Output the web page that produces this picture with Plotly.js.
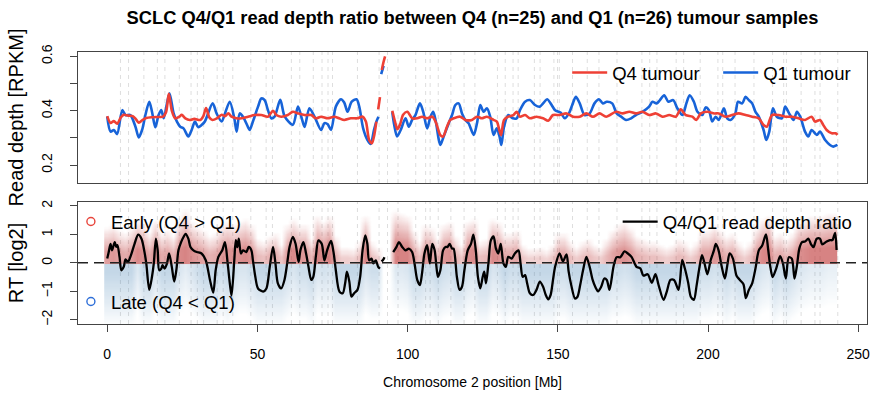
<!DOCTYPE html>
<html><head><meta charset="utf-8">
<script src="https://cdn.plot.ly/plotly-3.0.1.min.js"></script>
<style>html,body{margin:0;padding:0;background:#fff}#chart{width:877px;height:400px}</style>
</head><body><div id="chart"></div>
<script>
// ---------- DATA (Mb positions) ----------
const q4Pos = [0,1.1,2.2,3.3,4.5,5.5,7,8.5,9.6,10.5,11.8,13,15,17,18.6,19.6,20.5,21.5,22.6,24,24.8,26,27.5,29,31,32,32.9,34,35,36.5,38.1,39.2,40.3,41.4,43,44.7,46.9,49.1,51.3,53.5,55.2,56.3,57.9,60.1,61.8,63.5,65.7,67.9,69.5,71.2,73.4,75.6,77.2,78.9,81.1,83.3,85,86.1,87.2,88.1,88.8,89.6,89.9,90.2,90.8,91.1,91.4,92,92.5,93.7,94.9,95.8,96.6,97.5,98.5,99.9,101.5,103.2,104.8,106.5,108.2,109.3,110.2,110.9,111.8,113.1,114.2,115.3,117.5,119.2,121.4,123.1,124.7,126.4,128.6,129.7,130.5,131.1,132.1,133.5,135.2,136.3,137.4,139.1,140.7,142.9,145.1,146.8,148.4,150.6,152.9,155.1,157.3,159.5,161.7,163.9,166.1,169.4,171.6,173.8,176,178.2,180.4,182.7,184.9,187.1,189.3,190.9,192.6,194.8,196.1,197.6,199.8,202.1,203.6,205.8,208,210.2,212.5,214.7,216.9,218.5,219.6,221.3,223.5,225.7,227.9,230.1,232.3,234.5,235.6,237.3,238.4,239.5,241.2,242.5,243.1];
const q4Val = [0.38,0.355,0.362,0.352,0.375,0.385,0.382,0.38,0.368,0.356,0.366,0.373,0.376,0.377,0.378,0.395,0.462,0.40,0.372,0.378,0.385,0.372,0.366,0.37,0.366,0.38,0.41,0.375,0.366,0.372,0.385,0.38,0.39,0.378,0.372,0.372,0.378,0.384,0.384,0.378,0.40,0.384,0.378,0.384,0.396,0.39,0.384,0.384,0.372,0.378,0.372,0.378,0.372,0.366,0.372,0.372,0.378,0.36,0.292,0.28,0.305,0.36,null,0.405,0.45,null,0.55,0.58,0.60,null,0.40,0.36,0.332,0.35,0.385,0.396,0.372,0.372,0.378,0.372,0.378,0.36,0.33,0.31,0.305,0.341,0.366,0.372,0.378,0.366,0.366,0.378,0.372,0.378,0.366,0.36,0.33,0.31,0.366,0.378,0.384,0.396,0.378,0.384,0.372,0.378,0.372,0.363,0.384,0.384,0.39,0.378,0.378,0.39,0.378,0.39,0.378,0.396,0.39,0.396,0.39,0.396,0.384,0.39,0.378,0.384,0.378,0.405,0.384,0.378,0.366,0.39,0.396,0.39,0.39,0.378,0.384,0.39,0.384,0.378,0.372,0.347,0.341,0.384,0.384,0.378,0.378,0.372,0.366,0.378,0.36,0.366,0.347,0.329,0.317,0.317,0.311];

const q1Pos = [0,1.1,2.2,3.3,5,6.1,7.7,9.4,10.5,11.6,12.7,14,14.9,16,17.1,18,18.8,20.7,22.1,23.2,24.3,25.4,27,28.1,29.2,30.3,31.4,32.5,35.1,36.4,38.1,39.2,40.8,42.3,43.1,44.1,45.2,46.9,47.4,48.5,50.2,51.3,52.4,53.5,54.6,55.7,57.6,59.1,61.8,63.5,64.9,65.7,67.3,69,71.2,72.3,73.4,74.5,76.1,77.8,78.9,80,81.4,83,83.9,85.2,86.6,87.7,88.8,89.6,90.3,90.8,91.2,92,93.5,94.9,95.5,96.5,97.7,99.3,100.4,101.5,102.6,104.1,105.2,106.5,107.6,108.5,109.3,110.4,110.9,112,113.7,114.8,115.9,117,118.1,119.2,120.3,122,123.1,124.2,125.3,126.4,127.5,128.6,129.7,130.6,131.2,132.1,133.5,135,136.3,137.4,139.1,140.7,142.4,144,145.1,146.5,147.6,149.1,150.9,152.3,153.7,154.8,156,157.3,158.9,160.6,162.2,163.7,165,166.3,168.1,169.6,171.1,172.7,174.4,176,178.2,180.4,181.5,182.9,184,185.4,186.8,188.4,189.8,191.5,192.8,193.9,195.3,196.5,198.1,199.2,200.3,201.4,202.5,203.6,205.3,206.4,207.5,209.1,210,211.4,212.5,213.6,214.7,215.8,216.9,218.5,219.4,220.4,221.6,222.9,224.6,225.7,227,228.5,229.6,230.7,232.3,233.4,234.5,236.2,237.3,239,240.6,241.7,243.1];
const q1Val = [0.378,0.323,0.329,0.314,0.402,0.384,0.384,0.341,0.302,0.329,0.384,0.433,0.396,0.339,0.384,0.402,0.372,0.464,0.39,0.36,0.341,0.335,0.305,0.329,0.36,0.339,0.347,0.36,0.427,0.39,0.36,0.39,0.433,0.372,0.323,0.39,0.378,0.339,0.329,0.36,0.415,0.445,0.439,0.402,0.372,0.378,0.44,0.378,0.348,0.415,0.366,0.34,0.409,0.378,0.329,0.354,0.35,0.329,0.415,0.442,0.43,0.396,0.433,0.442,0.415,0.335,0.293,0.278,0.329,0.36,0.378,null,0.535,0.565,null,0.395,0.35,0.305,0.329,0.372,0.341,0.366,0.384,0.427,0.396,0.335,0.378,0.396,0.366,0.292,0.274,0.305,0.354,0.384,0.421,0.427,0.39,0.366,0.354,0.311,0.354,0.421,0.396,0.409,0.378,0.311,0.335,0.305,0.274,0.341,0.384,0.372,0.372,0.402,0.433,0.439,0.421,0.415,0.427,0.442,0.427,0.402,0.393,0.372,0.39,0.421,0.451,0.427,0.384,0.39,0.427,0.442,0.427,0.433,0.427,0.39,0.378,0.366,0.372,0.384,0.396,0.415,0.433,0.427,0.439,0.457,0.433,0.439,0.409,0.384,0.427,0.457,0.433,0.396,0.384,0.412,0.402,0.36,0.378,0.366,0.409,0.372,0.366,0.39,0.433,0.427,0.451,0.439,0.427,0.396,0.378,0.329,0.292,0.323,0.409,0.378,0.372,0.415,0.39,0.366,0.396,0.378,0.323,0.305,0.329,0.311,0.323,0.292,0.274,0.268,0.274];

const ratioPos = [0,0.5,1.1,1.6,2.5,3,3.4,4.1,4.7,5.5,6.1,6.9,7.7,9.1,10.3,11.4,12.3,13,14,14.9,15.5,16.2,16.8,17.3,18,18.4,19.1,19.9,20.6,21.5,22.3,23,23.7,24.6,25.4,26.1,27,27.7,28.7,29.8,31.4,32.8,34.2,35.3,36.1,37,38.3,39.2,40.1,40.9,41.4,42.3,42.8,43.3,43.8,44.5,45.2,46.3,47.1,48,48.5,49.3,50.2,51.9,53,54.1,55.2,56,56.8,57.9,59,59.9,60.7,61.8,62.7,63.7,64.3,65.3,66.2,67,67.9,68.6,69.5,70.3,71.4,72.3,73.2,74.5,75.4,76.1,77.3,78.4,79.2,79.8,80.6,81.3,82.2,83.3,84.2,85,85.9,86.6,87.2,88,88.6,89.4,90.2,90.8,91,91.3,91.8,92.3,93.5,95.2,96.3,97.1,98.2,99.3,100.4,101.5,102.3,103.2,104.1,104.8,105.6,106.5,107.4,108.2,109,109.6,110.1,110.9,111.8,112.6,113.3,114,114.8,115.3,116.4,117.3,118.1,118.9,120,121.1,121.9,122.7,123.4,124.2,125,125.5,126.1,126.9,127.7,128.6,129.4,130.2,131,131.9,132.7,133.5,134.6,135.7,136.9,137.6,138.3,139.1,139.8,140.7,141.8,142.9,144,145.1,146,146.8,147.6,148.4,149.1,150.6,151.7,152.9,153.6,154.5,155.7,156.5,157.5,158.4,159.5,160.6,161.6,162.5,163.4,164.4,165.5,166.3,167.2,168.6,169.6,170.8,172.2,173.3,174.6,176.2,177.5,178.5,179.9,181.3,182.5,183.6,185.2,186.3,187.5,188.7,190.2,191.4,192.3,193.4,194.3,195.3,196.2,197,198,198.9,199.8,200.9,202,202.6,203.5,204.5,205.6,206.4,207.2,208.3,209.5,210.6,211.8,212.6,213.6,214.7,215.8,216.9,218,219.3,220,220.7,221.5,222.7,224,224.9,225.9,226.9,227.9,228.8,229.6,230.4,231.3,232.3,233.4,234.3,235.1,236.2,237.3,238,239.5,240.6,241.4,242.3,242.8];
const ratioVal = [0.15,0.38,0.67,0.44,0.73,0.56,0.62,0.21,-0.26,-0.14,0.12,0.03,0.21,0.67,0.99,0.85,0.44,-0.02,-0.95,-0.49,-0.02,0.85,0.44,-0.26,-0.2,-0.08,-0.2,-0.02,0.33,-0.14,-0.66,-0.26,0.44,0.73,0.91,1.02,0.85,0.56,0.44,0.38,0.33,0.09,-0.6,-1.05,-0.26,0.21,0.44,0.73,-0.02,-0.8,-1.15,0.1,0.8,0.55,0.85,0.33,0.44,0.38,0.56,0.44,0.09,-0.49,-0.9,-1.01,-0.9,-0.14,0.56,-0.02,-0.72,-0.9,-0.6,-0.02,0.56,0.91,0.67,0.03,0.44,0.73,0.33,-0.14,-0.6,-0.49,0.27,0.79,0.67,0.09,0.44,0.77,0.33,-0.26,-1.01,-1.07,-0.72,-0.31,-0.66,-1.19,-1.07,-0.95,-0.49,0.44,0.97,0.67,0.09,0.15,-0.02,0.09,-0.14,-0.2,null,0.05,0.1,0.2,null,0.38,0.56,0.73,0.56,0.44,0.5,0.38,-0.02,-0.6,-0.78,-0.37,0.33,0.62,-0.02,0.67,0.44,-0.14,-0.49,-0.26,0.44,0.56,0.56,0.67,0.5,0.5,-0.49,-0.95,-0.84,-0.26,0.44,0.67,0.99,0.44,-0.49,-0.9,-0.49,-0.31,-0.72,-0.02,0.79,0.93,0.5,0.33,0.67,-0.02,-0.14,0.21,0.15,0.33,0.44,-0.02,-0.49,-0.43,-0.72,-1.07,-1.13,-0.95,-0.66,-0.84,-1.13,-1.28,-1.13,-0.6,-0.14,0.33,0.05,0.3,-0.3,-0.8,-1.25,-1.2,-0.75,-0.26,0.21,-0.14,-0.6,-0.85,-1.0,-0.85,-0.55,-0.6,-0.95,-0.1,0.2,0.2,0.4,0.33,0.2,-0.14,-0.2,-0.45,-0.4,-0.7,-0.4,-0.8,-1.3,-1.0,-0.6,-0.6,-0.95,0.1,-0.2,-0.7,-1.2,-1.3,-0.8,-0.26,0.27,-0.05,-0.4,0.1,0.45,0.67,0.45,-0.1,-0.55,-0.1,0.33,0.15,-0.45,-0.6,-0.75,-1.24,-0.95,-0.72,-0.2,0.44,0.6,1.0,0.5,-0.1,-0.5,-0.2,0.24,0,-0.55,0.2,0.15,-0.55,-0.1,0.5,0.73,0.75,0.85,0.65,0.55,0.85,0.85,0.65,0.75,0.8,0.8,1.05,0.45];

// per-window spread of the per-sample RT points (cloud extent), 2 Mb windows
const cloudPos = [0,2,4,6,8,10,12,14,16,18,20,22,24,26,28,30,32,34,36,38,40,42,44,46,48,50,52,54,56,58,60,62,64,66,68,70,72,74,76,78,80,82,84,86,88,90,92,94,96,98,100,102,104,106,108,110,112,114,116,118,120,122,124,126,128,130,132,134,136,138,140,142,144,146,148,150,152,154,156,158,160,162,164,166,168,170,172,174,176,178,180,182,184,186,188,190,192,194,196,198,200,202,204,206,208,210,212,214,216,218,220,222,224,226,228,230,232,234,236,238,240,242];
const cloudTop = [1.3,1.4,1.2,1.1,1.3,1.6,1.45,1.1,1.55,1.1,1.2,1.0,1.6,1.95,1.5,1.35,1.2,1.0,1.1,1.4,1.5,1.4,1.5,1.6,1.4,0.9,0.8,1.0,1.1,0.7,1.4,1.6,1.4,1.4,0.9,1.7,1.5,1.7,1.0,0.6,0.6,0.55,0.8,1.7,0.8,0.6,0,0,1.9,1.8,1.7,1.2,0.8,1.4,1.3,0.9,1.4,1.5,1.0,0.7,1.5,1.6,0.8,0.9,1.6,1.5,1.1,1.1,1.2,0.7,0.55,0.55,0.6,0.5,0.7,1.1,1.1,0.8,0.6,0.8,0.9,0.7,0.6,0.9,1.2,1.4,1.5,1.3,1.0,0.9,0.8,0.8,0.7,0.6,0.7,0.9,0.8,0.6,0.8,1.2,1.2,1.4,1.2,1.0,1.1,0.8,0.6,0.8,1.3,1.6,1.7,1.0,1.1,0.9,1.1,1.5,1.6,1.7,1.7,1.7,1.8,1.8];
const cloudBottom = [-2.2,-2.2,-2.2,-2.2,-2.2,-1.7,-2.2,-2.2,-1.8,-2.2,-2.2,-2.2,-1.8,-1.6,-1.8,-2.0,-2.2,-2.2,-2.2,-2.0,-2.2,-2.0,-1.8,-1.8,-2.0,-2.2,-2.2,-2.2,-2.2,-2.2,-2.0,-1.8,-2.0,-2.0,-2.2,-1.8,-1.9,-1.8,-2.2,-2.2,-2.2,-2.2,-2.2,-1.8,-2.0,-2.0,0,0,-1.7,-1.7,-1.8,-2.2,-2.2,-2.0,-2.0,-2.2,-2.0,-1.9,-2.2,-2.2,-1.9,-1.8,-2.2,-2.2,-1.8,-1.9,-2.2,-2.0,-2.0,-2.2,-2.2,-2.2,-2.2,-2.2,-2.2,-2.0,-2.0,-2.2,-2.2,-2.2,-2.2,-2.2,-2.2,-2.2,-2.0,-2.0,-1.9,-2.0,-2.2,-2.2,-2.2,-2.2,-2.2,-2.2,-2.2,-2.2,-2.2,-2.2,-2.2,-2.0,-2.0,-1.9,-2.0,-2.2,-2.0,-2.2,-2.2,-2.2,-2.0,-1.8,-1.7,-2.2,-2.0,-2.2,-2.0,-1.8,-1.7,-1.6,-1.6,-1.6,-1.5,-1.5];

// cytoband boundaries drawn as dashed guides
const bandPos = [4.4,7.1,12.2,16.7,19.2,24.0,27.9,30.0,32.1,36.6,38.6,41.8,47.8,52.9,55.0,61.3,64.1,68.6,71.5,73.5,75.0,83.3,90.5,93.3,96.8,102.7,106.0,107.5,110.2,114.4,118.8,122.4,129.9,132.5,135.1,136.8,142.2,144.1,148.7,149.9,150.5,154.9,159.8,163.7,169.7,178.0,180.6,183.0,189.4,191.9,197.4,203.3,204.9,209.0,215.3,221.5,225.2,226.1,231.0,235.6,237.3,243.2];

const xTicks = [0,50,100,150,200,250];
const depthTicks = [0.2,0.3,0.4,0.5,0.6];
const depthTickText = ['0.2','','0.4','','0.6'];
const rtTicks = [-2,-1,0,1,2];

// ---------- cloud table for the heatmap ----------
const yCells = [];
for (let k = 0; k <= 110; k++) yCells.push(Math.round((-2.2 + k * 0.04) * 100) / 100);
const zCloud = yCells.map(y => cloudPos.map((p, i) => {
  const top = cloudTop[i], bot = cloudBottom[i];
  if (top === 0 && bot === 0) return 0;
  if (y >= 0) {
    const t = y / top;
    if (t >= 1) return 0;
    const s = Math.pow(Math.min(1, top / 1.7), 0.9);
    return s * Math.pow(Math.min(1, (1 - t) / 0.7), 1.05);
  } else {
    const t = y / bot;
    if (t >= 1) return 0;
    const b = 0.3 + 0.7 * Math.min(1, Math.max(0, (-bot - 1.4) / 0.8));
    return -b * Math.pow(Math.min(1, (1 - t) / 0.85), 0.9);
  }
}));

const RED = '#EE4035', BLUE = '#1763D8';
const FONT = 'Liberation Sans, Arial, Helvetica, sans-serif';

const traces = [
  {type:'heatmap', x: cloudPos, y: yCells, z: zCloud, xaxis:'x', yaxis:'y',
   zmin:-1, zmax:1, showscale:false, hoverinfo:'skip', zsmooth:'best',
   colorscale:[[0,'rgba(70,130,180,0.32)'],[0.4999,'rgba(70,130,180,0)'],[0.5001,'rgba(190,55,55,0)'],[1,'rgba(190,55,55,0.62)']]},
  {type:'scatter', mode:'lines', name:'Q1 tumour', x:q1Pos, y:q1Val, xaxis:'x2', yaxis:'y2',
   line:{color:BLUE, width:2.6, shape:'spline', smoothing:0.8}, connectgaps:false, legend:'legend', legendrank:2},
  {type:'scatter', mode:'lines', name:'Q4 tumour', x:q4Pos, y:q4Val, xaxis:'x2', yaxis:'y2',
   line:{color:RED, width:2.6, shape:'spline', smoothing:0.8}, connectgaps:false, legend:'legend', legendrank:1},
  {type:'scatter', mode:'lines', name:'Q4/Q1 read depth ratio', x:ratioPos, y:ratioVal, xaxis:'x', yaxis:'y',
   line:{color:'#000', width:2.3, shape:'spline', smoothing:0.8}, connectgaps:false, legend:'legend4'},
  {type:'scatter', mode:'markers', name:'Early (Q4 &gt; Q1)', x:[null], y:[null], xaxis:'x', yaxis:'y',
   marker:{symbol:'circle-open', color:'#E8453C', size:8, line:{width:1.4}}, legend:'legend2'},
  {type:'scatter', mode:'markers', name:'Late (Q4 &lt; Q1)', x:[null], y:[null], xaxis:'x', yaxis:'y',
   marker:{symbol:'circle-open', color:'#2F6FD8', size:8, line:{width:1.4}}, legend:'legend3'}
];

const shapes = [];
bandPos.forEach(b => {
  shapes.push({type:'line', xref:'x', yref:'y domain', x0:b, x1:b, y0:0, y1:1, layer:'below', line:{color:'#dedede', width:1, dash:'4px,4px'}});
  shapes.push({type:'line', xref:'x2', yref:'y2 domain', x0:b, x1:b, y0:0, y1:1, layer:'below', line:{color:'#dedede', width:1, dash:'4px,4px'}});
});
shapes.push({type:'line', xref:'x domain', yref:'y', x0:0, x1:1, y0:0, y1:0, layer:'above', line:{color:'#222', width:1.5, dash:'10px,6px'}});

const axisCommon = {showgrid:false, zeroline:false, showline:true, mirror:true, linecolor:'#444', linewidth:1,
  ticks:'outside', ticklen:7, tickwidth:1, tickcolor:'#444', tickfont:{size:14, family:FONT, color:'#000'}};
const legendCommon = {bgcolor:'rgba(0,0,0,0)', borderwidth:0, font:{size:18.5, family:FONT, color:'#000'}, xanchor:'left', yanchor:'middle'};

const layout = {
  width:877, height:400,
  margin:{l:78, r:8, t:52, b:76},
  paper_bgcolor:'#fff', plot_bgcolor:'#fff',
  font:{family:FONT, size:14, color:'#000'},
  title:{text:'SCLC Q4/Q1 read depth ratio between Q4 (n=25) and Q1 (n=26) tumour samples',
    font:{size:18.3, family:FONT, weight:'bold', color:'#000'}, x:0.5, xref:'paper', xanchor:'center', y:0.955, yref:'container', yanchor:'middle'},
  xaxis: Object.assign({}, axisCommon, {domain:[0,1], anchor:'y', range:[-9.73,252.93], tickvals:xTicks, ticklabelstandoff:10,
    title:{text:'Chromosome 2 position [Mb]', font:{size:14, family:FONT}, standoff:16}}),
  xaxis2: Object.assign({}, axisCommon, {domain:[0,1], anchor:'y2', matches:'x', range:[-9.73,252.93], showticklabels:false, ticks:''}),
  yaxis: Object.assign({}, axisCommon, {domain:[0,0.4485], anchor:'x', range:[-2.15,2.14], tickvals:rtTicks, tickangle:-90, ticklabelstandoff:12,
    title:{text:'RT [log2]', font:{size:20, family:FONT}, standoff:10}}),
  yaxis2: Object.assign({}, axisCommon, {domain:[0.5184,1], anchor:'x2', range:[0.134,0.616], tickvals:depthTicks, ticktext:depthTickText, tickangle:-90, ticklabelstandoff:12,
    title:{text:'Read depth [RPKM]', font:{size:20, family:FONT}, standoff:10}}),
  legend: Object.assign({}, legendCommon, {orientation:'h', x:0.62, y:0.9228, itemwidth:35, entrywidth:101, traceorder:'normal'}),
  legend2: Object.assign({}, legendCommon, {x:-0.009, y:0.375}),
  legend3: Object.assign({}, legendCommon, {x:-0.009, y:0.081}),
  legend4: Object.assign({}, legendCommon, {x:0.684, y:0.375, itemwidth:35}),
  shapes: shapes,
  showlegend:true
};

Plotly.newPlot('chart', traces, layout, {staticPlot:true, displayModeBar:false});
</script>
</body></html>
